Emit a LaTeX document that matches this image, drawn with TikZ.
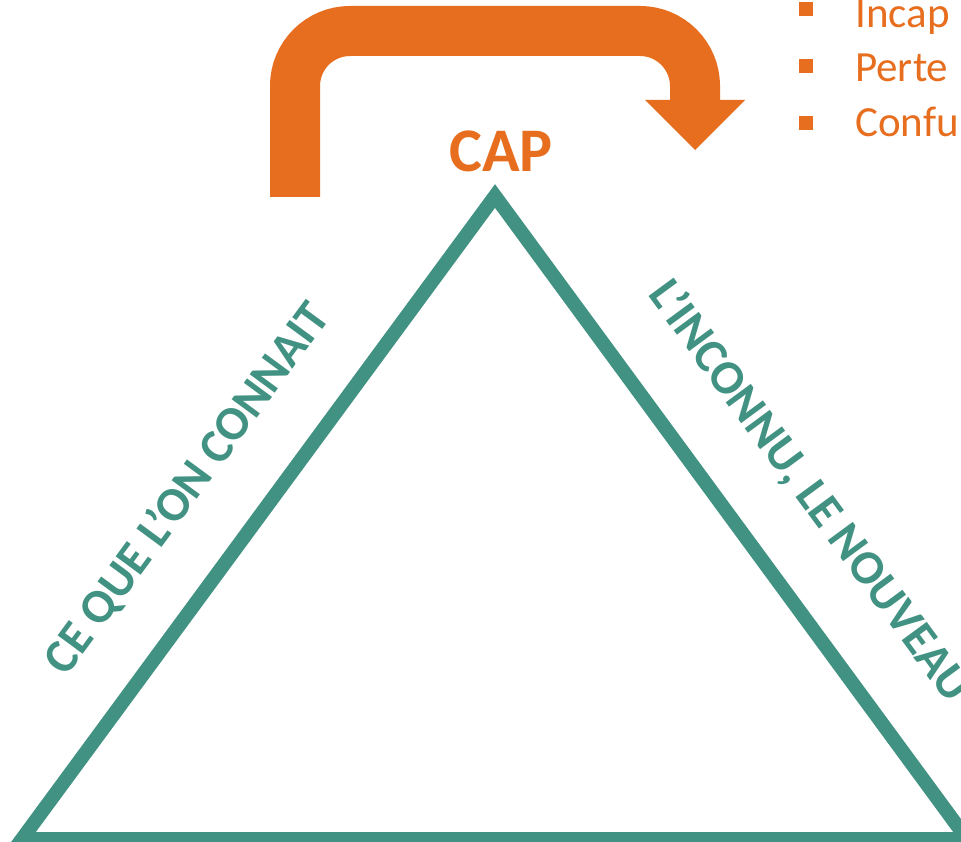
\documentclass[tikz,border=0pt]{standalone}
\usepackage{fontspec}
\setmainfont{Carlito}
\definecolor{tealc}{HTML}{419282}
\definecolor{orangec}{HTML}{E76E1E}
\tikzset{
  triline/.style={draw=tealc, line width=14pt, line join=miter},
  sidelabel/.style={text=tealc, font=\fontsize{48}{48}\selectfont\bfseries, inner sep=0pt, anchor=base},
  bullettext/.style={text=orangec, font=\fontsize{43}{43}\selectfont, inner sep=0pt, anchor=base west},
  bulletsq/.style={fill=orangec},
}
\begin{document}
\begin{tikzpicture}[x=1pt,y=-1pt]
\useasboundingbox (0,0) rectangle (961,842);
\clip (0,0) rectangle (961,842);
\fill[white] (0,0) rectangle (961,842);
% triangle
\coordinate (bl) at (22,839);
\coordinate (top) at (495,196);
\coordinate (br) at (967,839);
\draw[triline] (bl) -- (top) -- (br) -- cycle;
% orange arrow
\coordinate (a0) at (295,197);
\coordinate (a1) at (295,31);
\coordinate (a2) at (695,31);
\coordinate (a3) at (695,101);
\draw[orangec, line width=50pt, rounded corners=55pt] (a0) -- (a1) -- (a2) -- (a3);
\fill[orangec] (645,100) -- (745,100) -- (695,150) -- cycle;
% CAP
\node[text=orangec, font=\fontsize{62}{62}\selectfont\bfseries, inner sep=0pt, anchor=base] (cap) at (501,172) {CAP};
% bullets
\fill[bulletsq] (799,2.5) rectangle (813,16.5);
\fill[bulletsq] (799,59) rectangle (813,73);
\fill[bulletsq] (799,116) rectangle (813,130);
\node[bullettext] (b1) at (855,28) {Incap};
\node[bullettext] (b2) at (855,82) {Perte};
\node[bullettext] (b3) at (855,137) {Confu};
% side labels
\node[sidelabel, rotate=53.66] (left) at (199,497) {CE QUE L’ON CONNAIT};
\node[sidelabel, rotate=-53.66] (right) at (798,500) {L’INCONNU, LE NOUVEAU};
\end{tikzpicture}
\end{document}
